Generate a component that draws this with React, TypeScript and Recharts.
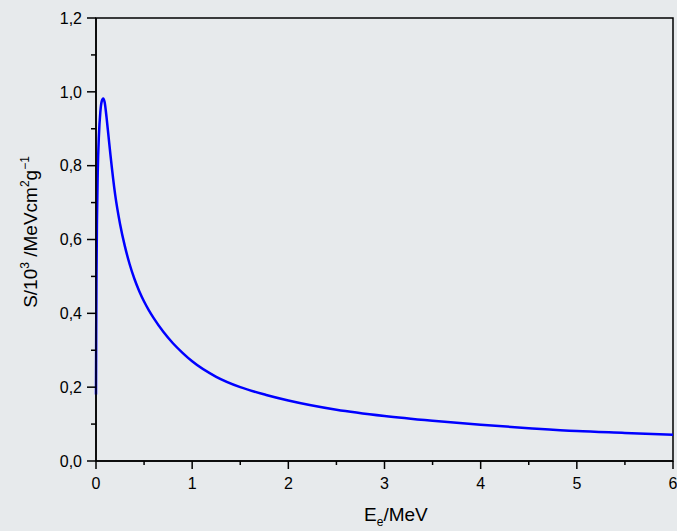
import React from "react";
import { LineChart, Line, XAxis, YAxis, ReferenceArea } from "recharts";

// Energy E_e (MeV)
const energies = [
  0, 0.002, 0.005, 0.01, 0.018, 0.03, 0.045, 0.06, 0.075, 0.09, 0.11, 0.13,
  0.15, 0.2, 0.25, 0.3, 0.35, 0.4, 0.45, 0.5, 0.55, 0.6, 0.7, 0.8, 0.9, 1.0,
  1.25, 1.5, 1.77, 2.0, 2.5, 3.0, 3.5, 4.0, 4.5, 5.0, 5.5, 6.0,
];
// Stopping power S / 10^3 MeV cm^2 g^-1
const stopping = [
  0.18, 0.35, 0.5, 0.65, 0.78, 0.88, 0.945, 0.975, 0.982, 0.972, 0.93, 0.88,
  0.83, 0.72, 0.642, 0.582, 0.533, 0.493, 0.46, 0.432, 0.408, 0.387, 0.35,
  0.319, 0.293, 0.27, 0.228, 0.2, 0.179, 0.164, 0.139, 0.122, 0.109, 0.098,
  0.089, 0.081, 0.076, 0.071,
];

const xTicks = [0, 0.5, 1, 1.5, 2, 2.5, 3, 3.5, 4, 4.5, 5, 5.5, 6];
const yTicks = [0, 0.1, 0.2, 0.3, 0.4, 0.5, 0.6, 0.7, 0.8, 0.9, 1.0, 1.1, 1.2];

const data = energies.map((e, i) => ({ e, s: stopping[i] }));

const FONT = "'Liberation Sans', Arial, sans-serif";
const BG = "#e7eaec";

const XTick = (props: any) => {
  const { x, y, payload } = props;
  const v = payload.value as number;
  const major = Math.abs(v - Math.round(v)) < 1e-6;
  return (
    <g>
      <line x1={x} x2={x} y1={y} y2={y + (major ? 8 : 4)} stroke="#000" strokeWidth={1.5} />
      {major && (
        <text x={x} y={y + 28} textAnchor="middle" fontSize={16} fontFamily={FONT} fill="#000">
          {String(Math.round(v))}
        </text>
      )}
    </g>
  );
};

const YTick = (props: any) => {
  const { x, y, payload } = props;
  const v = payload.value as number;
  const major = Math.round(v * 10) % 2 === 0;
  return (
    <g>
      <line x1={x} x2={x - (major ? 9 : 5)} y1={y} y2={y} stroke="#000" strokeWidth={1.5} />
      {major && (
        <text x={x - 14} y={y} dy="0.36em" textAnchor="end" fontSize={16} fontFamily={FONT} fill="#000">
          {v.toFixed(1).replace(".", ",")}
        </text>
      )}
    </g>
  );
};

const YLabel = () => (
  <text
    transform="translate(37, 232) rotate(-90)"
    textAnchor="middle"
    fontSize={19}
    fontFamily={FONT}
    fill="#000"
  >
    S/10
    <tspan dy={-8} fontSize={12}>3</tspan>
    <tspan dy={8}> /MeVcm</tspan>
    <tspan dy={-8} fontSize={12}>2</tspan>
    <tspan dy={8}>g</tspan>
    <tspan dy={-8} fontSize={12}>−1</tspan>
  </text>
);

const XLabel = () => (
  <text x={364} y={521} fontSize={19} fontFamily={FONT} fill="#000">
    E
    <tspan dy={5} fontSize={12}>e</tspan>
    <tspan dy={-5}>/MeV</tspan>
  </text>
);

export default function App() {
  return (
    <div
      style={{
        position: "fixed",
        left: 0,
        top: 0,
        width: 677,
        height: 531,
        background: BG,
        fontFamily: FONT,
      }}
    >
      <LineChart
        width={677}
        height={531}
        data={data}
        margin={{ top: 18, right: 4, bottom: 0, left: 0 }}
      >
        <XAxis
          dataKey="e"
          type="number"
          domain={[0, 6]}
          ticks={xTicks}
          interval={0}
          height={70}
          tickSize={0}
          tickMargin={0}
          tickLine={false}
          tick={<XTick />}
          axisLine={{ stroke: "#000", strokeWidth: 1.5 }}
          label={<XLabel />}
        />
        <YAxis
          type="number"
          domain={[0, 1.2]}
          ticks={yTicks}
          interval={0}
          width={96}
          tickSize={0}
          tickMargin={0}
          tickLine={false}
          tick={<YTick />}
          axisLine={{ stroke: "#000", strokeWidth: 1.5 }}
          label={<YLabel />}
        />
        <ReferenceArea
          x1={0}
          x2={6}
          y1={0}
          y2={1.2}
          fill="none"
          fillOpacity={0}
          stroke="#000"
          strokeWidth={1.5}
          ifOverflow="visible"
        />
        <Line
          type="monotone"
          dataKey="s"
          stroke="#0000ff"
          strokeWidth={2.5}
          dot={false}
          isAnimationActive={false}
        />
      </LineChart>
    </div>
  );
}
